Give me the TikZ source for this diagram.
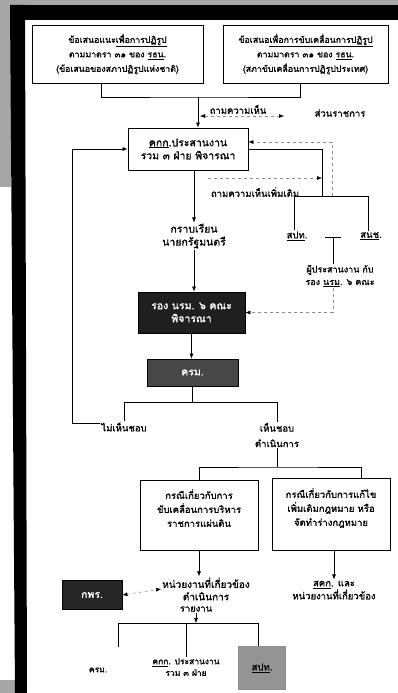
\documentclass[tikz,border=0pt]{standalone}
\usepackage{fontspec}
\newfontfamily\thai[Script=Thai, FakeBold=1.2]{Loma}
\usetikzlibrary{arrows.meta}
\newcommand{\tul}[1]{\underline{#1}}
\newcommand{\fs}[2]{\thai\fontsize{#1}{#2}\selectfont}
\begin{document}
\begin{tikzpicture}[x=1pt,y=-1pt,
  every node/.style={font=\fs{9.5}{13}, align=center, inner sep=1pt},
  topf/.style={font=\fs{8.8}{14.5}},
  midf/.style={font=\fs{10.5}{13}},
  casef/.style={font=\fs{9.5}{14}},
  smallf/.style={font=\fs{8.5}{11.5}},
  box/.style={draw, line width=0.8pt, inner sep=2pt},
  darkbox/.style={draw, fill=black!88, text=white, line width=0.8pt},
  arr/.style={-{Latex[length=5pt,width=4pt]}, line width=0.6pt},
  ln/.style={line width=0.6pt},
  dsh/.style={dashed, draw=black!45, line width=0.5pt},
  dtip/.style={-{Latex[length=5pt,width=4pt,black]}},
  dtips/.style={{Latex[length=5pt,width=4pt,black]}-{Latex[length=5pt,width=4pt,black]}},
]
\useasboundingbox (0,0) rectangle (398,693);
\fill[white] (0,0) rectangle (398,693);
\fill[black!35] (0,0) rectangle (398,7);
\fill[black!35] (0,0) rectangle (11,187);
\fill[black!35] (0,680) rectangle (15,693);
\fill[black] (10,5) rectangle (398,20);
\fill[black] (10,5) -- (25,5) -- (27,693) -- (15,693) -- cycle;

% top boxes
\node[box, topf, minimum width=171pt, minimum height=58pt] (n1) at (117.5,54)
  {ข้อเสนอแนะ\tul{เพื่อการปฏิรูป}\\ตามมาตรา ๓๑ ของ \tul{รธน}.\\(ข้อเสนอของสภาปฏิรูปแห่งชาติ)};
\node[box, topf, minimum width=165pt, minimum height=58pt] (n2) at (305.5,54)
  {ข้อเสนอ\tul{เพื่อการขับเคลื่อนการปฏิรูป}\\ตามมาตรา ๓๑ ของ \tul{รธน}.\\(สภาขับเคลื่อนการปฏิรูปประเทศ)};
\node[box, midf, minimum width=120pt, minimum height=42pt] (n3) at (188,149)
  {\tul{คกก}.ประสานงาน\\รวม ๓ ฝ่าย พิจารณา};

\coordinate (j1) at (198,97);
\draw[ln] ([xshift=-16pt]n1.south) |- (j1) -| ([xshift=-5pt]n2.south);
\draw[arr] (j1) -- (j1 |- n3.north);

% ask opinion
\node[anchor=south] (q) at (238,115) {ถามความเห็น};
\node (sr) at (340,113) {ส่วนราชการ};
\coordinate (q1) at (200,116);
\coordinate (q2) at (284,116);
\draw[dsh, dtips] (q1) -- (q2);

% to PM
\node[midf] (gr) at (194,236) {กราบเรียน\\นายกรัฐมนตรี};
\draw[arr] (n3.south -| gr) -- (gr.north);
\node[darkbox, midf, minimum width=107pt, minimum height=41pt] (n5) at (191.5,312.5) {รอง นรม. ๖ คณะ\\พิจารณา};
\draw[arr] (gr.south) -- (gr.south |- n5.north);
\node[darkbox, midf, fill=black!72, minimum width=91pt, minimum height=27pt] (n6) at (192.5,372.5) {ครม.};
\draw[arr] (n5.south) -- (n5.south |- n6.north);

% branch
\node (nh) at (124,427) {ไม่เห็นชอบ};
\node[font=\fs{9.5}{15.5}] (ny) at (277,435) {เห็นชอบ\\ดำเนินการ};
\coordinate (b1) at (194,402);
\draw[ln] (n6.south) -- (n6.south |- b1);
\draw[ln] (nh.north) -- (nh.north |- b1) -- (ny.north |- b1) -- (ny.north);
\coordinate (lp) at (72,423);
\draw[arr] ([yshift=4pt]nh.west) -- (lp) |- (n3.west);

% case boxes
\node[box, casef, minimum width=118pt, minimum height=70pt] (n7) at (199,515)
  {กรณีเกี่ยวกับการ\\ขับเคลื่อนการบริหาร\\ราชการแผ่นดิน\\\mbox{}};
\node[box, casef, minimum width=118pt, minimum height=72pt] (n8) at (331,514)
  {กรณีเกี่ยวกับการแก้ไข\\เพิ่มเติมกฎหมาย หรือ\\จัดทำร่างกฎหมาย\\\mbox{}};
\coordinate (b2) at (277,467);
\draw[ln] (ny.south) -- (b2);
\draw[ln] (n7.north) |- (b2) -| ([xshift=30pt]n8.north);

\node[font=\fs{10}{12.5}] (hn) at (206,589) {หน่วยงานที่เกี่ยวข้อง\\ดำเนินการ};
\draw[arr] (n7.south) -- (n7.south |- hn.north);
\node[font=\fs{9.5}{13}] (sk) at (334,590) {\tul{สคก}. และ\\หน่วยงานที่เกี่ยวข้อง};
\draw[arr] (n8.south -| sk) -- (sk.north);
\node[darkbox, midf, fill=black!85, minimum width=60pt, minimum height=29pt] (kp) at (92,595) {กพร.};
\draw[dsh, dtips] (kp.east) -- (hn.west);

% report
\node (rp) at (196,609) {รายงาน};
\coordinate (b3) at (196,623);
\draw[arr] (rp.south) -- (b3);
\node[smallf] (c1) at (98,670) {ครม.};
\node[smallf] (c2) at (186,667) {\tul{คกก}. ประสานงาน\\รวม ๓ ฝ่าย};
\node[draw=black!45, fill=black!42, minimum width=47pt, minimum height=43pt] (c3) at (262,668) {\tul{สปท}.};
\coordinate (v1) at (118,647);
\draw[ln] (v1) |- ([xshift=-4pt]c3.north |- b3) -- ([xshift=-4pt]c3.north);
\draw[ln] (c2.north |- b3) -- (c2.north);

% right side
\coordinate (r1) at (322,196);
\draw[ln] (n3.east) -| (r1);
\node (sp) at (297,236) {\tul{สปท}.};
\node (sn) at (371,236) {\tul{สนช}.};
\draw[ln] ([xshift=-3pt]sp.north) |- ([xshift=-3pt]sn.north |- r1) -- ([xshift=-3pt]sn.north);
\node[font=\fs{9}{12.5}] (pc) at (340,276) {ผู้ประสานงาน กับ\\รอง \tul{นรม}. ๖ คณะ};
\coordinate (t1) at (333,237);
\coordinate (t2) at (325,237);
\coordinate (t3) at (341,237);
\draw[ln] (t2) -- (t3);
\draw[ln] (t1) -- (t1 |- pc.north);
\draw[dsh, dtip] (pc.south -| t1) |- (n5.east);
\coordinate (d1) at (332,196);
\draw[dsh, dtip] (d1) |- ([yshift=7pt]n3.east);
\coordinate (d2) at (208,178);
\draw[dsh, dtip] (d2) -- (d2 -| r1);
\node (am) at (255,192) {ถามความเห็นเพิ่มเติม};
\end{tikzpicture}
\end{document}
